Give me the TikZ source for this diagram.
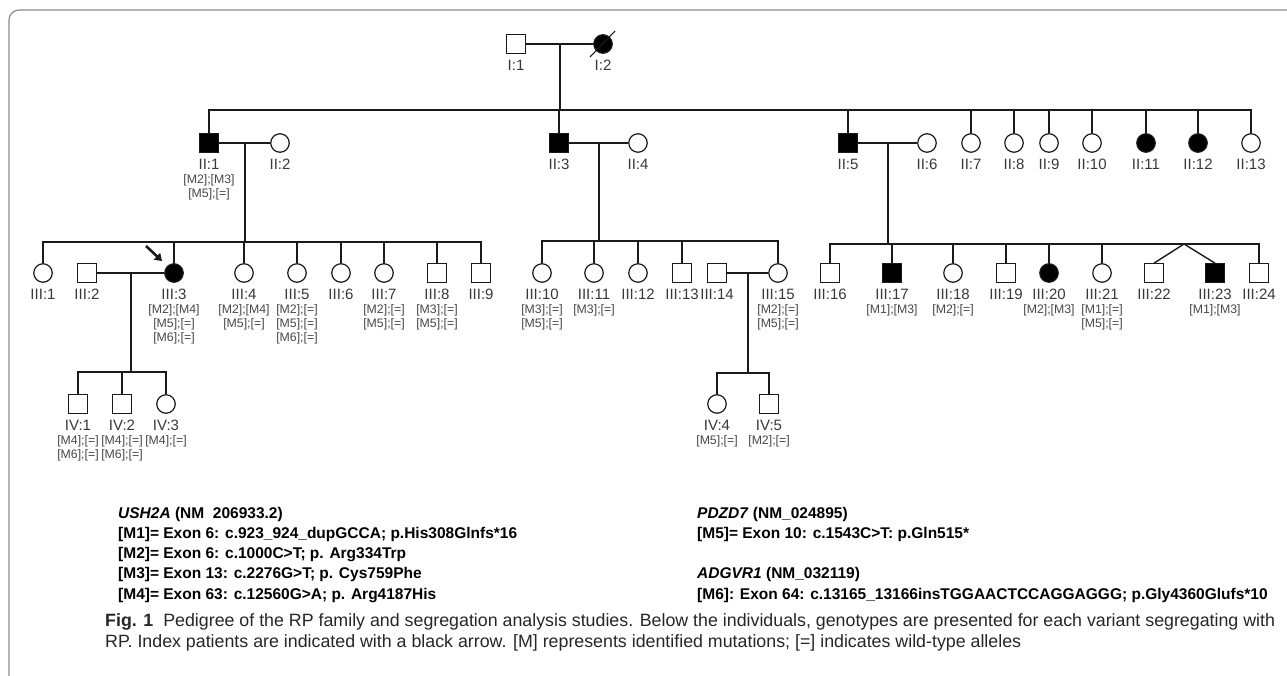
\documentclass[tikz,border=0pt]{standalone}
\usepackage{fontspec}
\setmainfont{Liberation Sans}
\usetikzlibrary{arrows.meta,calc}
\definecolor{ln}{HTML}{1A1A1A}
\definecolor{tx}{HTML}{383838}
\definecolor{gt}{HTML}{474747}
\definecolor{framec}{HTML}{8C8C8C}
\tikzset{
  base/.style={draw=ln, line width=1.2pt, inner sep=0pt, minimum size=18.5pt, fill=white},
  male/.style={base, rectangle},
  female/.style={base, circle},
  aff/.style={fill=black},
  lbl/.style={font=\fontsize{15}{16}\selectfont, text=tx, inner sep=0pt},
  geno/.style={font=\fontsize{12.3}{14}\selectfont, text=gt, align=center, anchor=north, inner sep=0pt},
  ln/.style={draw=ln, line width=1.4pt},
  desc/.style={draw=ln, line width=2pt},
  legend/.style={font=\fontsize{15.5}{17}\selectfont\bfseries, anchor=base west, inner sep=0pt},
  capt/.style={font=\fontsize{17.8}{20}\selectfont, text=black!85, anchor=base west, inner sep=0pt}
}
\newcommand\pers[6]{%
  \node[#2] (#1) at (#3,#4) {};
  \node[lbl] (#1l) at (#3,#4+21) {#5};
  \if\relax\detokenize{#6}\relax\else
  \node[geno] (#1g) at (#3,#4+31) {#6};\fi}
\begin{document}
\begin{tikzpicture}[x=1pt,y=-1pt]
\useasboundingbox (0,0) rectangle (1287,676);
\draw[framec, line width=1.2pt, rounded corners=10pt] (1290,10) -- (9,10) -- (9,680);

% Generation I
\pers{I1}{male}{516}{44}{I:1}{}
\pers{I2}{female,aff}{603}{44}{I:2}{}
\draw[ln] (I1.east) -- (I2.west);
\draw[ln, line width=1.1pt] ($(I2.center)+(-13,13)$) -- ($(I2.center)+(12,-13)$);
\coordinate (c0) at ($(I1.east)!0.5!(I2.west)$);
\coordinate (s2) at (0,110);
\draw[desc] (c0) -- (c0 |- s2);

% Generation II
\pers{II1}{male,aff}{209}{143}{II:1}{{[M2];[M3]}\\{[M5];[=]}}
\pers{II2}{female}{280}{143}{II:2}{}
\pers{II3}{male,aff}{559}{143}{II:3}{}
\pers{II4}{female}{638}{143}{II:4}{}
\pers{II5}{male,aff}{848}{143}{II:5}{}
\pers{II6}{female}{927}{143}{II:6}{}
\pers{II7}{female}{971}{143}{II:7}{}
\pers{II8}{female}{1014}{143}{II:8}{}
\pers{II9}{female}{1049}{143}{II:9}{}
\pers{II10}{female}{1092}{143}{II:10}{}
\pers{II11}{female,aff}{1146}{143}{II:11}{}
\pers{II12}{female,aff}{1198}{143}{II:12}{}
\pers{II13}{female}{1251}{143}{II:13}{}
\draw[ln] (II1.north) |- (II13.north |- s2) -- (II13.north);
\foreach \n in {II3,II5,II7,II8,II9,II10,II11,II12}
  \draw[ln] (\n.north) -- (\n.north |- s2);

\draw[ln] (II1.east) -- (II2.west);
\draw[ln] (II3.east) -- (II4.west);
\draw[ln] (II5.east) -- (II6.west);
\coordinate (c1) at ($(II1.east)!0.5!(II2.west)$);
\coordinate (c2) at ($(II3.east)!0.5!(II4.west)$);
\coordinate (c3) at ($(II5.east)!0.5!(II6.west)$);
\coordinate (s3a) at (0,242);
\coordinate (s3b) at (0,241);
\coordinate (s3c) at (0,244);
\draw[desc] (c1) -- (c1 |- s3a);
\draw[desc] (c2) -- (c2 |- s3b);
\draw[desc] (c3) -- (c3 |- s3c);

% Generation III - left
\pers{III1}{female}{43}{273}{III:1}{}
\pers{III2}{male}{87}{273}{III:2}{}
\pers{III3}{female,aff}{174}{273}{III:3}{{[M2];[M4]}\\{[M5];[=]}\\{[M6];[=]}}
\pers{III4}{female}{244}{273}{III:4}{{[M2];[M4]}\\{[M5];[=]}}
\pers{III5}{female}{297}{273}{III:5}{{[M2];[=]}\\{[M5];[=]}\\{[M6];[=]}}
\pers{III6}{female}{341}{273}{III:6}{}
\pers{III7}{female}{384}{273}{III:7}{{[M2];[=]}\\{[M5];[=]}}
\pers{III8}{male}{437}{273}{III:8}{{[M3];[=]}\\{[M5];[=]}}
\pers{III9}{male}{481}{273}{III:9}{}
\draw[ln] (III1.north) |- (III9.north |- s3a) -- (III9.north);
\foreach \n in {III3,III4,III5,III6,III7,III8}
  \draw[ln] (\n.north) -- (\n.north |- s3a);

% index arrow
\coordinate (arr) at (146,246);
\draw[ln, line width=2.6pt, -{Triangle[length=7pt,width=9pt]}] (arr) -- ([shift={(-5,-5)}]III3.north west);

\draw[ln] (III2.east) -- (III3.west);
\coordinate (c4) at ($(III2.east)!0.5!(III3.west)$);
\coordinate (s4a) at (0,372);
\draw[desc] (c4) -- (c4 |- s4a);

% Generation IV - left
\pers{IV1}{male}{78}{404}{IV:1}{{[M4];[=]}\\{[M6];[=]}}
\pers{IV2}{male}{122}{404}{IV:2}{{[M4];[=]}\\{[M6];[=]}}
\pers{IV3}{female}{166}{404}{IV:3}{[M4];[=]}
\draw[ln] (IV1.north) |- (IV3.north |- s4a) -- (IV3.north);
\draw[ln] (IV2.north) -- (IV2.north |- s4a);

% Generation III - middle
\pers{III10}{female}{542}{273}{III:10}{{[M3];[=]}\\{[M5];[=]}}
\pers{III11}{female}{594}{273}{III:11}{[M3];[=]}
\pers{III12}{female}{638}{273}{III:12}{}
\pers{III13}{male}{682}{273}{III:13}{}
\pers{III14}{male}{717}{273}{III:14}{}
\pers{III15}{female}{778}{273}{III:15}{{[M2];[=]}\\{[M5];[=]}}
\draw[ln] (III10.north) |- (III15.north |- s3b) -- (III15.north);
\foreach \n in {III11,III12,III13}
  \draw[ln] (\n.north) -- (\n.north |- s3b);
\draw[ln] (III14.east) -- (III15.west);
\coordinate (c5) at ($(III14.east)!0.5!(III15.west)$);
\coordinate (s4b) at (0,373);
\draw[desc] (c5) -- (c5 |- s4b);

% Generation IV - middle
\pers{IV4}{female}{717}{404}{IV:4}{[M5];[=]}
\pers{IV5}{male}{769}{404}{IV:5}{[M2];[=]}
\draw[ln] (IV4.north) |- (IV5.north |- s4b) -- (IV5.north);

% Generation III - right
\pers{III16}{male}{830}{273}{III:16}{}
\pers{III17}{male,aff}{892}{273}{III:17}{[M1];[M3]}
\pers{III18}{female}{953}{273}{III:18}{[M2];[=]}
\pers{III19}{male}{1006}{273}{III:19}{}
\pers{III20}{female,aff}{1049}{273}{III:20}{[M2];[M3]}
\pers{III21}{female}{1102}{273}{III:21}{{[M1];[=]}\\{[M5];[=]}}
\pers{III22}{male}{1154}{273}{III:22}{}
\pers{III23}{male,aff}{1215}{273}{III:23}{[M1];[M3]}
\pers{III24}{male}{1259}{273}{III:24}{}
\draw[ln] (III16.north) |- (III24.north |- s3c) -- (III24.north);
\foreach \n in {III17,III18,III19,III20,III21}
  \draw[ln] (\n.north) -- (\n.north |- s3c);
\coordinate (tw) at (1184,244);
\draw[ln] (III22.north) -- (tw) -- (III23.north);

% Legend
\node[legend] (L1) at (118,518) {\textit{USH2A} (NM\ \ 206933.2)};
\node[legend] (L2) at (118,538) {[M1]= Exon 6: c.923\_924\_dupGCCA; p.His308Glnfs*16};
\node[legend] (L3) at (118,558) {[M2]= Exon 6: c.1000C>T; p. Arg334Trp};
\node[legend] (L4) at (118,578) {[M3]= Exon 13: c.2276G>T; p. Cys759Phe};
\node[legend] (L5) at (118,599) {[M4]= Exon 63: c.12560G>A; p. Arg4187His};
\node[legend] (R1) at (697,518) {\textit{PDZD7} (NM\_024895)};
\node[legend] (R2) at (697,538) {[M5]= Exon 10: c.1543C>T: p.Gln515*};
\node[legend] (R4) at (697,578) {\textit{ADGVR1} (NM\_032119)};
\node[legend] (R5) at (697,599) {[M6]: Exon 64: c.13165\_13166insTGGAACTCCAGGAGGG; p.Gly4360Glufs*10};

% Caption
\node[capt] (C1) at (105,626) {\textbf{Fig. 1}\hspace{10pt}Pedigree of the RP family and segregation analysis studies. Below the individuals, genotypes are presented for each variant segregating with};
\node[capt] (C2) at (105,647) {RP. Index patients are indicated with a black arrow. [M] represents identified mutations; [=] indicates wild-type alleles};
\end{tikzpicture}
\end{document}
